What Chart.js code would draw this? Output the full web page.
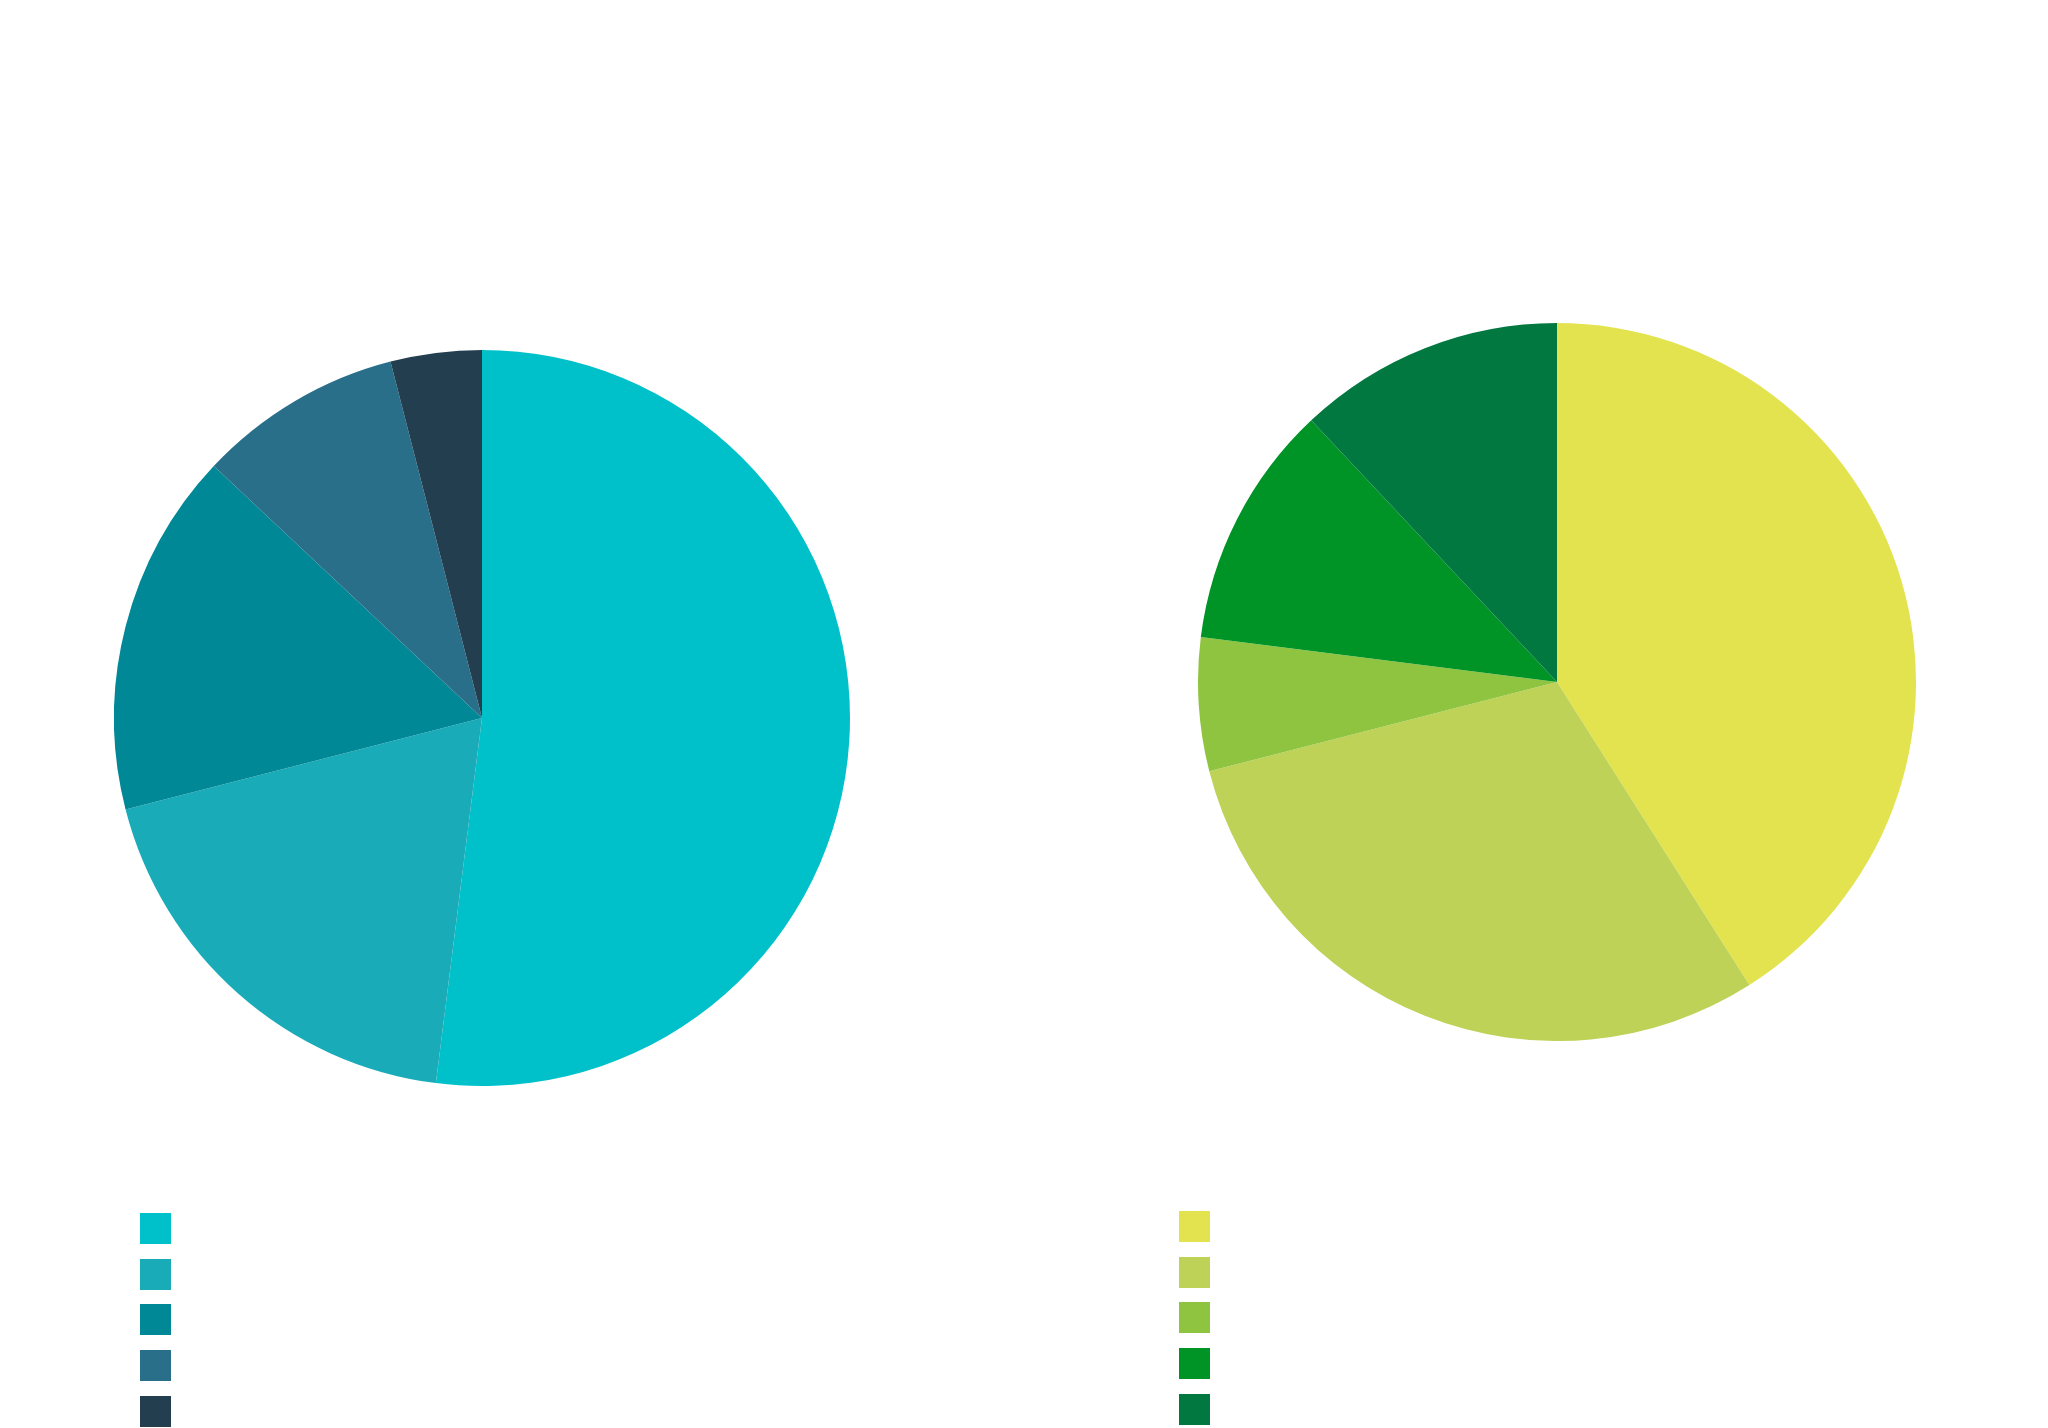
<!DOCTYPE html>
<html>
<head>
<meta charset="utf-8">
<script src="https://cdn.jsdelivr.net/npm/chart.js@4"></script>
<style>
    html, body { margin: 0; padding: 0; background: #ffffff; }
    body { width: 2048px; height: 1428px; position: relative; overflow: hidden; font-family: "Open Sans", sans-serif; }
    .pie-box { position: absolute; }
    .legend { position: absolute; }
    .legend .item { width: 31px; height: 31px; margin-bottom: 14.7px; }
</style>
</head>
<body>
<div class="pie-box" id="leftBox" style="left:114px; top:350px; width:736px; height:736px;">
    <canvas id="leftPie"></canvas>
</div>
<div class="pie-box" id="rightBox" style="left:1198px; top:323px; width:718px; height:718px;">
    <canvas id="rightPie"></canvas>
</div>
<div class="legend" id="leftLegend" style="left:140px; top:1213px;"></div>
<div class="legend" id="rightLegend" style="left:1179px; top:1211px;"></div>

<script>
// left pie (teal shades), clockwise from 12 o'clock
const leftLabels = ['', '', '', '', ''];
const leftValues = [52, 19, 16, 9, 4];
const leftColors = ['#00c1ca', '#1aabb9', '#008896', '#2a6f8a', '#233f4f'];

// right pie (yellow/green shades)
const rightLabels = ['', '', '', '', ''];
const rightValues = [41, 30, 6, 11, 12];
const rightColors = ['#e3e34f', '#bdd257', '#8fc440', '#009426', '#007840'];

function renderPie(canvasId, labels, values, colors) {
    const ctx = document.getElementById(canvasId)?.getContext('2d');
    if (!ctx) return;

    new Chart(ctx, {
        type: 'pie',
        data: {
            labels: labels,
            datasets: [{
                data: values,
                backgroundColor: colors,
                borderWidth: 0
            }]
        },
        options: {
            responsive: true,
            maintainAspectRatio: false,
            animation: false,
            layout: { padding: 0 },
            plugins: {
                legend: { display: false },
                tooltip: { enabled: false }
            }
        }
    });
}

function renderLegend(containerId, colors) {
    const container = document.getElementById(containerId);
    if (!container) return;

    colors.forEach((color) => {
        const item = document.createElement('div');
        item.classList.add('item');
        item.style.background = color;
        container.appendChild(item);
    });
}

renderPie('leftPie', leftLabels, leftValues, leftColors);
renderPie('rightPie', rightLabels, rightValues, rightColors);
renderLegend('leftLegend', leftColors);
renderLegend('rightLegend', rightColors);
</script>
</body>
</html>
